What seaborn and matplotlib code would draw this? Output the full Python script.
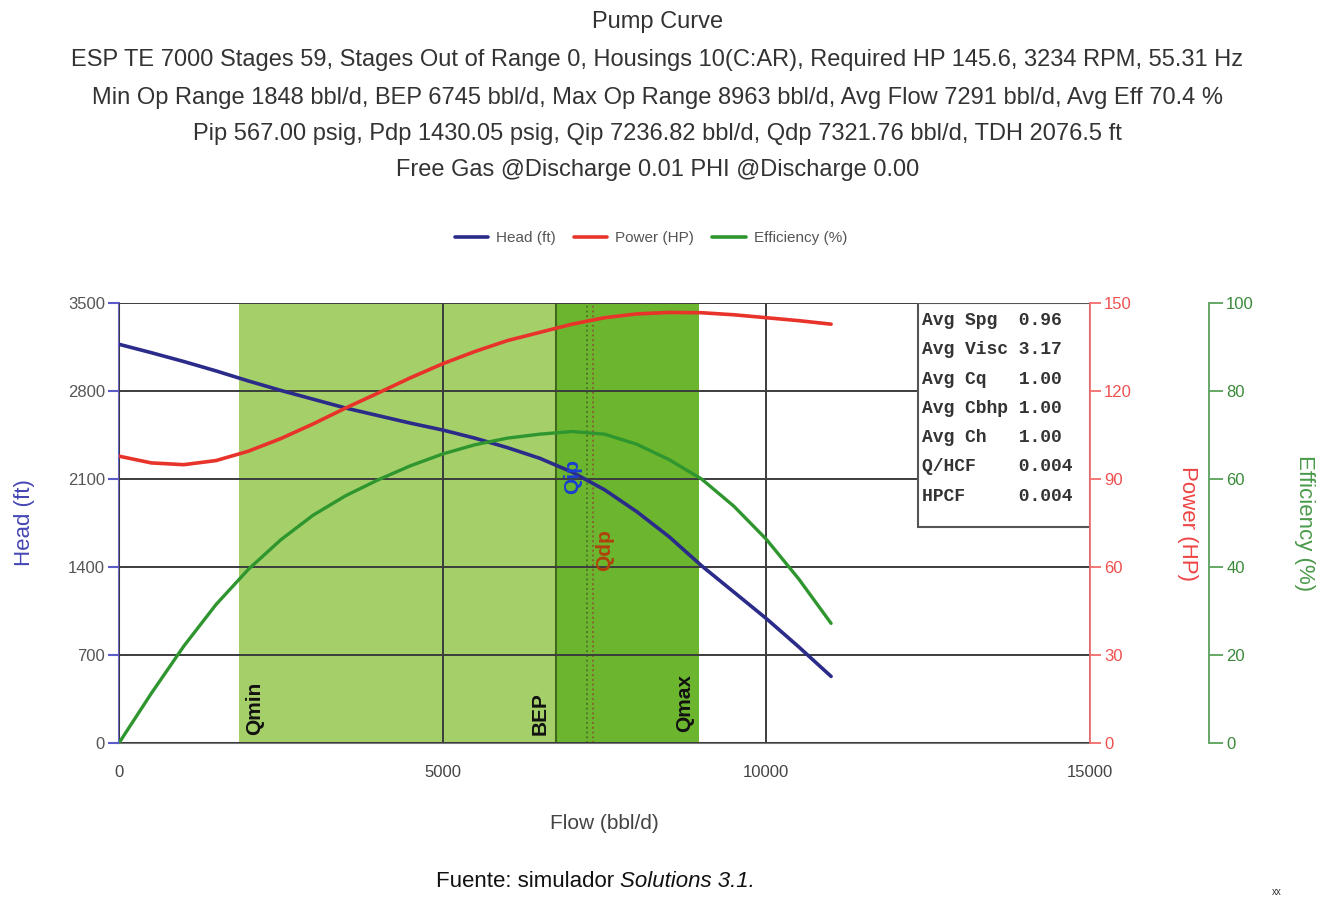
import matplotlib
matplotlib.use("Agg")
import matplotlib.pyplot as plt
import seaborn as sns
import pandas as pd
from matplotlib.patches import Rectangle

# --- data ---
flow = [0, 500, 1000, 1500, 2000, 2500, 3000, 3500, 4000, 4500, 5000, 5500,
        6000, 6500, 7000, 7500, 8000, 8500, 9000, 9500, 10000, 10500, 11000]
head_ft = [3172, 3105, 3035, 2960, 2880, 2805, 2735, 2665, 2605, 2545, 2490, 2425,
           2350, 2265, 2155, 2015, 1840, 1640, 1410, 1200, 990, 765, 530]
power_hp = [97.8, 95.5, 94.9, 96.3, 99.5, 103.8, 108.8, 114.2, 119.3, 124.5, 129.3, 133.5,
            137.2, 140.0, 142.8, 145.0, 146.3, 146.8, 146.7, 146.0, 145.0, 144.0, 142.8]
eff_pct = [0, 11.3, 22.0, 31.5, 39.5, 46.2, 51.8, 56.2, 59.8, 63.0, 65.7, 67.8,
           69.3, 70.2, 70.8, 70.2, 67.9, 64.4, 60.0, 53.8, 46.3, 37.3, 27.2]

q_min, q_bep, q_max = 1848, 6745, 8963
q_ip, q_dp = 7236.82, 7321.76

head_ticks = [0, 700, 1400, 2100, 2800, 3500]
power_ticks = [0, 30, 60, 90, 120, 150]
eff_ticks = [0, 20, 40, 60, 80, 100]
flow_labels = [0, 5000, 10000, 15000]
flow_minor = [0, 3000, 6000, 9000, 12000, 15000]

box_labels = ["Avg Spg", "Avg Visc", "Avg Cq", "Avg Cbhp", "Avg Ch", "Q/HCF", "HPCF"]
box_values = ["0.96", "3.17", "1.00", "1.00", "1.00", "0.004", "0.004"]

title_lines = [
    "Pump Curve",
    "ESP TE 7000 Stages 59, Stages Out of Range 0, Housings 10(C:AR), Required HP 145.6, 3234 RPM, 55.31 Hz",
    "Min Op Range 1848 bbl/d, BEP 6745 bbl/d, Max Op Range 8963 bbl/d, Avg Flow 7291 bbl/d, Avg Eff 70.4 %",
    "Pip 567.00 psig, Pdp 1430.05 psig, Qip 7236.82 bbl/d, Qdp 7321.76 bbl/d, TDH 2076.5 ft",
    "Free Gas @Discharge 0.01 PHI @Discharge 0.00",
]

df = pd.DataFrame({"flow": flow, "head": head_ft, "power": power_hp, "eff": eff_pct})

sns.set_theme(style="white")
plt.rcParams["font.family"] = ["Liberation Sans", "DejaVu Sans"]

HEAD_C = "#2b2b8a"
POWER_C = "#e8332b"
EFF_C = "#2f962f"
GRID_C = "#3c3c3c"

fig = plt.figure(figsize=(13.28, 8.99), dpi=100)
ax = fig.add_axes([0.0896, 0.1735, 0.7312, 0.4894])

# operating range bands
ax.axvspan(q_min, q_bep, color="#a5cf68", lw=0, zorder=0)
ax.axvspan(q_bep, q_max, color="#6cb52e", lw=0, zorder=0)
ax.axvline(q_bep, color="#3f6a1e", lw=1.5, zorder=1)
ax.axvline(q_ip, color="#4b6e2a", lw=1.3, ls=":", zorder=1)
ax.axvline(q_dp, color="#8a5a30", lw=1.3, ls=":", zorder=1)

ax.set_xlim(0, 15000)
ax.set_ylim(0, 3500)
ax.set_xticks(flow_labels)
ax.set_xticks(flow_minor, minor=True)
ax.set_yticks(head_ticks)
ax.tick_params(axis="x", which="major", length=0, pad=16, labelsize=12, labelcolor="#444444")
ax.tick_params(axis="x", which="minor", length=7, width=1.2, color="#666666", direction="out")
ax.tick_params(axis="y", length=8, width=1.5, color="#5a5ac8", direction="out",
               labelsize=12, labelcolor="#555555", pad=2)
ax.grid(True, which="major", axis="both", color=GRID_C, lw=1.4)
ax.set_axisbelow(False)
for s in ["top", "right"]:
    ax.spines[s].set_visible(False)
ax.spines["left"].set_color("#6a6ad0")
ax.spines["left"].set_linewidth(1.5)
ax.spines["bottom"].set_color("#777777")
ax.spines["bottom"].set_linewidth(1.5)

sns.lineplot(data=df, x="flow", y="head", ax=ax, color=HEAD_C, lw=2.6, zorder=5)
ax.set_xlabel("Flow (bbl/d)", fontsize=15, color="#444444", labelpad=24)
ax.set_ylabel("Head (ft)", fontsize=16, color="#4545b5", labelpad=24)

# power axis
ax2 = ax.twinx()
sns.lineplot(data=df, x="flow", y="power", ax=ax2, color=POWER_C, lw=2.6, zorder=5)
ax2.set_ylim(0, 150)
ax2.set_yticks(power_ticks)
ax2.tick_params(axis="y", length=8, width=1.2, color="#f06060", labelsize=12,
                labelcolor="#ee5050", pad=2)
for s in ["top", "left", "bottom"]:
    ax2.spines[s].set_visible(False)
ax2.spines["right"].set_color("#f07070")
ax2.spines["right"].set_linewidth(1.3)
ax2.set_ylabel("Power (HP)", fontsize=16, color="#ee4444", rotation=270, labelpad=48)
ax2.grid(False)

# efficiency axis
ax3 = ax.twinx()
ax3.spines["right"].set_position(("outward", 86))
sns.lineplot(data=df, x="flow", y="eff", ax=ax3, color=EFF_C, lw=2.4, zorder=5)
ax3.set_ylim(0, 100)
ax3.set_yticks(eff_ticks)
ax3.tick_params(axis="y", length=10, width=1.2, color="#4a9a4a", labelsize=12,
                labelcolor="#3a8a3a", pad=2)
for s in ["top", "left", "bottom"]:
    ax3.spines[s].set_visible(False)
ax3.spines["right"].set_color("#5aa05a")
ax3.spines["right"].set_linewidth(1.3)
ax3.set_ylabel("Efficiency (%)", fontsize=16, color="#4a9a4a", rotation=270, labelpad=44)
ax3.grid(False)
ax3.set_xlim(0, 15000)

# range labels
ax.text(q_min + 100, 60, "Qmin", rotation=90, fontsize=15, fontweight="bold",
        color="#111111", ha="left", va="bottom", zorder=6)
ax.text(q_bep - 100, 60, "BEP", rotation=90, fontsize=15, fontweight="bold",
        color="#111111", ha="right", va="bottom", zorder=6)
ax.text(q_max - 80, 90, "Qmax", rotation=90, fontsize=15, fontweight="bold",
        color="#111111", ha="right", va="bottom", zorder=6)
ax.text(q_ip - 90, 2260, "Qip", rotation=90, fontsize=15, fontweight="bold",
        color="#1a3fd0", ha="right", va="top", zorder=6)
ax.text(q_dp + 40, 1700, "Qdp", rotation=90, fontsize=15, fontweight="bold",
        color="#b0420c", ha="left", va="top", zorder=6)

# info box
ax.add_patch(Rectangle((0.823, 0.491), 0.177, 0.509, transform=ax.transAxes,
                       facecolor="white", edgecolor="#555555", lw=1.5, zorder=7))
for i, (lab, val) in enumerate(zip(box_labels, box_values)):
    ax.text(0.827, 0.96 - i * 0.0665, f"{lab:<9}{val}", transform=ax.transAxes,
            family=["Liberation Mono", "DejaVu Sans Mono"], fontsize=13, fontweight="bold",
            color="#333333", ha="left", va="center", zorder=8)

# legend
handles = [plt.Line2D([], [], color=HEAD_C, lw=2.6),
           plt.Line2D([], [], color=POWER_C, lw=2.6),
           plt.Line2D([], [], color=EFF_C, lw=2.6)]
fig.legend(handles, ["Head (ft)", "Power (HP)", "Efficiency (%)"], loc="center",
           bbox_to_anchor=(0.49, 0.735), ncol=3, frameon=False, fontsize=11,
           labelcolor="#555555", handlelength=2.2, columnspacing=1.2, handletextpad=0.5)

# title block
title_y = [0.976, 0.933, 0.891, 0.851, 0.811]
for txt, y in zip(title_lines, title_y):
    fig.text(0.495, y, txt, ha="center", va="center", fontsize=17, color="#333333")

# source line
fig.canvas.draw()
t1 = fig.text(0.328, 0.019, "Fuente: simulador ", ha="left", va="center",
              fontsize=16, color="#111111")
fig.canvas.draw()
bb = t1.get_window_extent()
fig.text(bb.x1 / fig.bbox.width, 0.019, "Solutions 3.1.", ha="left", va="center",
         fontsize=16, style="italic", color="#111111")
fig.text(0.958, 0.008, "xx", fontsize=7, color="#333333", ha="left", va="center")

fig.savefig("out.png", dpi=100)
